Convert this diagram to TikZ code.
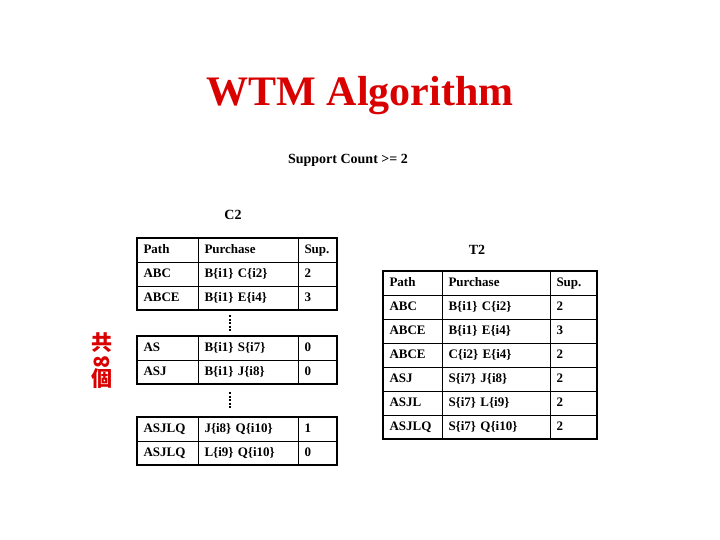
\documentclass[tikz,border=0pt]{standalone}
\usepackage{fontspec}
\setmainfont{Liberation Serif}
\newfontfamily\cjk{Noto Sans CJK TC}
\begin{document}
\begin{tikzpicture}[x=1pt,y=-1pt,
  cell/.style={draw,line width=1pt,anchor=north west,inner sep=0pt,minimum height=24pt,text height=9pt,text depth=3pt,font=\bfseries\fontsize{13}{13}\selectfont,align=left,text width=#1,inner xsep=6pt},
  blk/.style={draw,line width=2.5pt},
  lbl/.style={font=\bfseries\fontsize{14}{14}\selectfont}]
\useasboundingbox (0,0) rectangle (720,540);
\node[font=\bfseries\fontsize{42}{42}\selectfont,text=red!85!black] (title) at (360,96) {WTM Algorithm};
\node[lbl] (sc) at (348,160) {Support Count >= 2};
\node[lbl] (c2) at (233,215) {C2};
\node[lbl] (t2) at (477,250) {T2};
\newcommand\lrow[5]{%
  \node[cell=49pt] (#1p) at (137,#2) {#3};
  \node[cell=88pt] (#1q) at (198,#2) {#4};
  \node[cell=27pt] (#1s) at (298,#2) {#5};}
\lrow{la}{238}{Path}{Purchase}{Sup.}
\lrow{lb}{262}{ABC}{B\{i1\} C\{i2\}}{2}
\lrow{lc}{286}{ABCE}{B\{i1\} E\{i4\}}{3}
\lrow{ld}{336}{AS}{B\{i1\} S\{i7\}}{0}
\lrow{le}{360}{ASJ}{B\{i1\} J\{i8\}}{0}
\lrow{lf}{417}{ASJLQ}{J\{i8\} Q\{i10\}}{1}
\lrow{lg}{441}{ASJLQ}{L\{i9\} Q\{i10\}}{0}
\draw[blk] (137,238) rectangle (337,310);
\draw[blk] (137,336) rectangle (337,384);
\draw[blk] (137,417) rectangle (337,465);
\draw[line width=2.5pt,dash pattern=on 2pt off 1.5pt] (230,315) -- (230,331);
\draw[line width=2.5pt,dash pattern=on 2pt off 1.5pt] (230,392) -- (230,409);
\newcommand\rrow[5]{%
  \node[cell=47pt] (#1p) at (383,#2) {#3};
  \node[cell=96pt] (#1q) at (442,#2) {#4};
  \node[cell=35pt] (#1s) at (550,#2) {#5};}
\rrow{ra}{271}{Path}{Purchase}{Sup.}
\rrow{rb}{295}{ABC}{B\{i1\} C\{i2\}}{2}
\rrow{rc}{319}{ABCE}{B\{i1\} E\{i4\}}{3}
\rrow{rd}{343}{ABCE}{C\{i2\} E\{i4\}}{2}
\rrow{re}{367}{ASJ}{S\{i7\} J\{i8\}}{2}
\rrow{rf}{391}{ASJL}{S\{i7\} L\{i9\}}{2}
\rrow{rg}{415}{ASJLQ}{S\{i7\} Q\{i10\}}{2}
\draw[blk] (383,271) rectangle (597,439);
\node[text=red!85!black,font=\cjk\bfseries\fontsize{21}{21}\selectfont,align=center,inner sep=0pt] (side) at (102,361) {共\\[-3pt]\rotatebox{90}{8}\\[-3pt]個};
\end{tikzpicture}
\end{document}
